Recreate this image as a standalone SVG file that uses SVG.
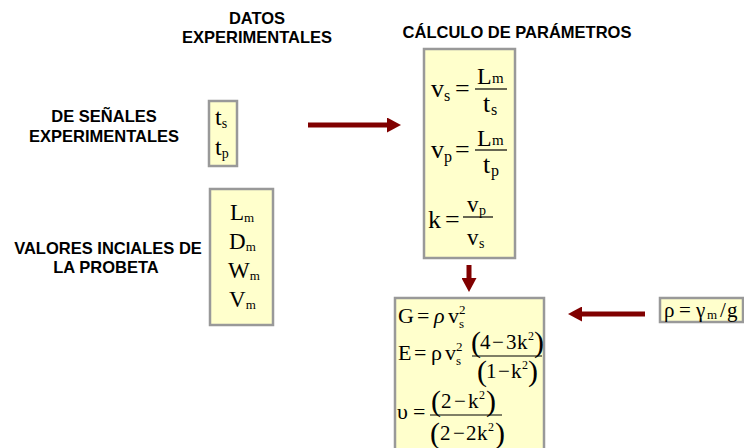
<svg xmlns="http://www.w3.org/2000/svg" width="744" height="448" viewBox="0 0 744 448">
<style>
.h{font-family:"Liberation Sans",Arial,sans-serif;font-weight:bold;font-size:16.5px;fill:#000;text-anchor:middle}
.box{fill:#FFFFCC;stroke:#999999;stroke-width:2.5}
.m{font-family:"Liberation Serif","Times New Roman",serif;fill:#000}
.fl{stroke:#000;stroke-width:1.2}
.arr{stroke:#800000;stroke-width:5;fill:none;marker-end:url(#ah)}
</style>
<defs>
<marker id="ah" viewBox="0 0 14 15" markerWidth="14" markerHeight="15" refX="0" refY="7.5" orient="auto" markerUnits="userSpaceOnUse">
<path d="M0,0 L14,7.5 L0,15 Z" fill="#800000"/>
</marker>
</defs>
<g id="titles">
<text class="h" x="257" y="24">DATOS</text>
<text class="h" x="257" y="43">EXPERIMENTALES</text>
<text class="h" x="517" y="38">CÁLCULO DE PARÁMETROS</text>
<text class="h" x="104" y="122">DE SEÑALES</text>
<text class="h" x="104" y="142">EXPERIMENTALES</text>
<text class="h" x="108" y="254">VALORES INCIALES DE</text>
<text class="h" x="106" y="273">LA PROBETA</text>
</g>
<g id="node-tiempos">
<rect class="box" x="209" y="101" width="28" height="65"/>
<text class="m" font-size="24" x="215" y="125">t<tspan font-size="14" dy="3">s</tspan></text>
<text class="m" font-size="24" x="215" y="155">t<tspan font-size="14" dy="3">p</tspan></text>
</g>
<g id="node-probeta">
<rect class="box" x="210" y="189" width="63" height="136"/>
<text class="m" font-size="23" x="230" y="220">L<tspan font-size="13" dy="2">m</tspan></text>
<text class="m" font-size="23" x="229" y="249">D<tspan font-size="13" dy="2">m</tspan></text>
<text class="m" font-size="23" x="228" y="278">W<tspan font-size="13" dy="2">m</tspan></text>
<text class="m" font-size="23" x="229" y="307">V<tspan font-size="13" dy="2">m</tspan></text>
</g>
<g id="node-calculo">
<rect class="box" x="424" y="49" width="91" height="209"/>
<text class="m" font-size="26" x="431" y="97">v<tspan font-size="16" x="444" dy="4">s</tspan><tspan dy="-4" x="455">=</tspan></text>
<text class="m" font-size="24" x="477" y="84">L<tspan font-size="15" x="492" dy="-1">m</tspan></text>
<line class="fl" x1="475" y1="89" x2="507" y2="89"/>
<text class="m" font-size="26" x="483" y="112">t<tspan font-size="16" x="491" dy="3">s</tspan></text>
<text class="m" font-size="26" x="431" y="158">v<tspan font-size="16" x="444" dy="4">p</tspan><tspan dy="-4" x="455">=</tspan></text>
<text class="m" font-size="24" x="477" y="146">L<tspan font-size="15" x="492" dy="-1">m</tspan></text>
<line class="fl" x1="475" y1="150" x2="507" y2="150"/>
<text class="m" font-size="26" x="483" y="173">t<tspan font-size="16" x="491" dy="3">p</tspan></text>
<text class="m" font-size="26" x="428" y="228">k<tspan x="445">=</tspan></text>
<text class="m" font-size="23" x="467" y="212">v<tspan font-size="14" x="479" dy="3">p</tspan></text>
<line class="fl" x1="463" y1="217" x2="493" y2="217"/>
<text class="m" font-size="23" x="467" y="245">v<tspan font-size="14" x="479" dy="3">s</tspan></text>
</g>
<g id="node-resultados">
<rect class="box" x="395" y="298" width="149" height="165"/>
<text class="m" font-size="22" x="398" y="323">G<tspan x="417">=</tspan><tspan x="434" font-style="italic">ρ</tspan><tspan x="448">v</tspan><tspan font-size="13" x="459" dy="-9">2</tspan><tspan font-size="13" x="459" dy="14">s</tspan></text>
<text class="m" font-size="22" x="398" y="360">E<tspan x="414">=</tspan><tspan x="431">ρ</tspan><tspan x="445">v</tspan><tspan font-size="13" x="456" dy="-9">2</tspan><tspan font-size="13" x="456" dy="14">s</tspan></text>
<text class="m" font-size="30" x="471" y="352">(</text>
<text class="m" font-size="21" x="480" y="349">4<tspan x="492">−</tspan><tspan x="506">3</tspan><tspan x="517">k</tspan><tspan font-size="12" x="528" dy="-9">2</tspan></text>
<text class="m" font-size="30" x="534" y="352">)</text>
<line class="fl" x1="472" y1="356" x2="542" y2="356"/>
<text class="m" font-size="30" x="477" y="381">(</text>
<text class="m" font-size="21" x="486" y="378">1<tspan x="498">−</tspan><tspan x="511">k</tspan><tspan font-size="12" x="522" dy="-9">2</tspan></text>
<text class="m" font-size="30" x="528" y="381">)</text>
<text class="m" font-size="22" x="397" y="419">υ<tspan x="413">=</tspan></text>
<text class="m" font-size="30" x="431" y="411">(</text>
<text class="m" font-size="21" x="441" y="408">2<tspan x="454">−</tspan><tspan x="468">k</tspan><tspan font-size="12" x="479" dy="-9">2</tspan></text>
<text class="m" font-size="30" x="486" y="411">)</text>
<line class="fl" x1="430" y1="415" x2="502" y2="415"/>
<text class="m" font-size="30" x="430" y="443">(</text>
<text class="m" font-size="21" x="440" y="440">2<tspan x="453">−</tspan><tspan x="466">2</tspan><tspan x="477">k</tspan><tspan font-size="12" x="488" dy="-9">2</tspan></text>
<text class="m" font-size="30" x="495" y="443">)</text>
</g>
<g id="node-densidad">
<rect class="box" x="660" y="298" width="83" height="24"/>
<text class="m" font-size="21" x="664" y="317">ρ<tspan x="679">=</tspan><tspan x="696">γ</tspan><tspan font-size="13" x="707" dy="2">m</tspan><tspan x="720" dy="-2">/</tspan><tspan x="727">g</tspan></text>
</g>
<g id="connectors">
<line class="arr" x1="308" y1="125" x2="387" y2="125"/>
<line class="arr" x1="469" y1="265" x2="469" y2="278"/>
<line class="arr" x1="645" y1="314" x2="582" y2="314"/>
</g>
</svg>
